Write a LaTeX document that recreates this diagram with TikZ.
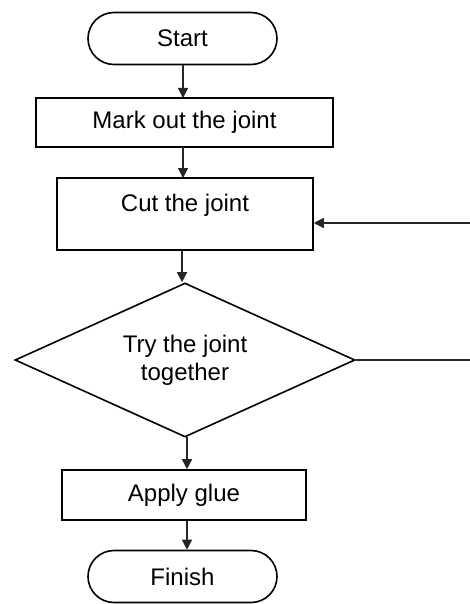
\documentclass[tikz,border=0pt]{standalone}
\usepackage{fontspec}
\setmainfont{Liberation Sans}
\usetikzlibrary{shapes.misc,shapes.geometric,arrows.meta}
\begin{document}
\begin{tikzpicture}[x=1pt,y=-1pt,
  every node/.style={font=\fontsize{24}{28}\selectfont, line width=1.6pt, draw=black},
  term/.style={rounded rectangle, minimum width=189pt, minimum height=52pt, inner sep=0pt},
  proc/.style={rectangle, inner sep=0pt},
  decide/.style={diamond, aspect=2.2, minimum width=340pt, minimum height=154pt, inner sep=0pt, align=center},
  conn/.style={line width=1.4pt, draw=black!85},
  arr/.style={conn, -{Triangle[length=10pt,width=10pt]}}
]
\useasboundingbox (0,0) rectangle (470,604);
\node[term] (start) at (182.5,38.5) {Start};
\node[proc, minimum width=297pt, minimum height=49pt] (mark) at (184.5,122.5) {Mark out the joint};
\node[proc, minimum width=256pt, minimum height=72pt, text height=25pt, text depth=31pt] (cut) at (185,214) {Cut the joint};
\node[decide] (try) at (185,360) {Try the joint\\together};
\node[proc, minimum width=244pt, minimum height=50pt] (apply) at (184,495) {Apply glue};
\node[term] (finish) at (182.5,576.5) {Finish};
\coordinate (rin) at (470,223);
\coordinate (rout) at (470,360);
\draw[arr] (183,65) -- (183,98);
\draw[arr] (183,147) -- (183,178);
\draw[arr] (cut.south -| 182,0) -- (try.north -| 182,0);
\draw[arr] (187,437) -- (apply.north -| 187,0);
\draw[arr] (apply.south -| 187,0) -- (finish.north -| 187,0);
\draw[arr] (rin) -- (rin -| cut.east);
\draw[conn] (try.east) -- (rout);
\end{tikzpicture}
\end{document}
